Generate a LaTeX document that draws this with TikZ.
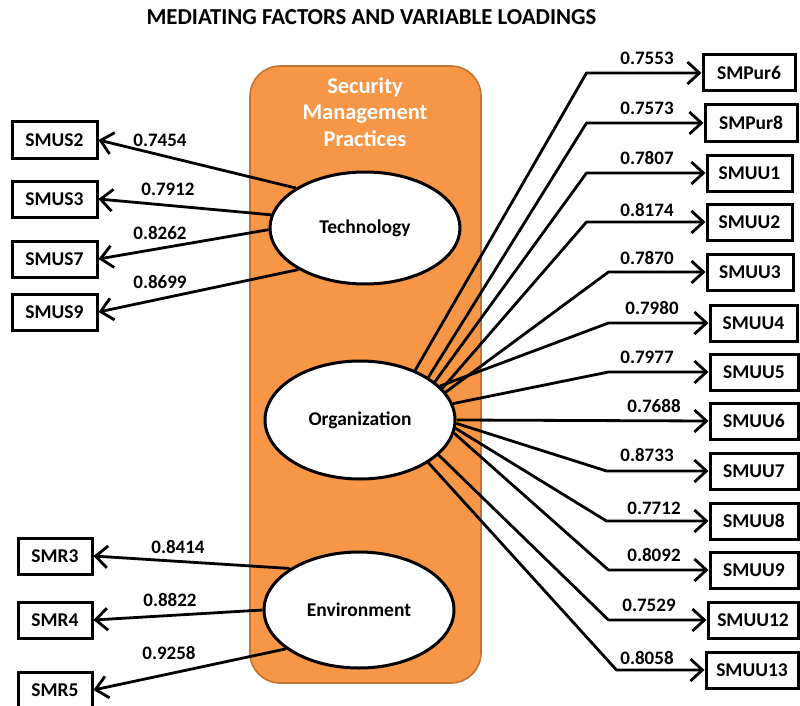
\documentclass[tikz,border=0pt]{standalone}
\usepackage{fontspec}
\setmainfont{Carlito}
\usetikzlibrary{arrows.meta,shapes.geometric}
\definecolor{orng}{HTML}{F79646}
\definecolor{orngdk}{HTML}{C27435}
\begin{document}
\begin{tikzpicture}[x=1pt,y=-1pt,
  box/.style={draw, line width=3pt, minimum height=36pt, inner sep=2pt,
    font=\fontsize{19.5}{20}\selectfont\bfseries},
  lat/.style={ellipse, draw, fill=white, line width=3pt, inner sep=0pt,
    font=\fontsize{19.5}{20}\selectfont\bfseries},
  lbl/.style={inner sep=0pt, font=\fontsize{19}{20}\selectfont\bfseries},
  arr/.style={line width=2.8pt, line join=round,
    -{Straight Barb[length=12pt,width=22pt,line width=2.8pt]}}]
\useasboundingbox (0,0) rectangle (800,706);

% title
\node[font=\fontsize{22.8}{24}\selectfont\bfseries] (title) at (371.5,17.5) {MEDIATING FACTORS AND VARIABLE LOADINGS};

% container
\draw[fill=orng, draw=orngdk, line width=1.6pt, rounded corners=30pt] (250,66) rectangle (481,683);
\node[text=white, align=center, font=\fontsize{22.5}{26.5}\selectfont\bfseries] (smp) at (365,112)
  {Security\\Management\\Practices};

% latent variables
\node[lat, minimum width=190pt, minimum height=112pt] (tech) at (365,228) {Technology};
\node[lat, minimum width=190pt, minimum height=118pt] (org) at (360,420) {Organization};
\node[lat, minimum width=190pt, minimum height=116pt] (env) at (359,610) {Environment};

% left boxes
\node[box, minimum width=85pt] (s2) at (54.5,140) {SMUS2};
\node[box, minimum width=85pt] (s3) at (54.5,199) {SMUS3};
\node[box, minimum width=85pt] (s7) at (54.5,259) {SMUS7};
\node[box, minimum width=85pt] (s9) at (54.5,312) {SMUS9};
\node[box, minimum width=74pt] (r3) at (55,556) {SMR3};
\node[box, minimum width=74pt] (r4) at (55,620) {SMR4};
\node[box, minimum width=74pt] (r5) at (55,690) {SMR5};

% right boxes
\node[box, minimum width=92pt] (p6) at (749,73) {SMPur6};
\node[box, minimum width=92pt] (p8) at (751,123) {SMPur8};
\node[box, minimum width=85pt] (u1) at (749.5,173) {SMUU1};
\node[box, minimum width=85pt] (u2) at (749.5,222) {SMUU2};
\node[box, minimum width=86pt] (u3) at (750,272) {SMUU3};
\node[box, minimum width=87pt] (u4) at (753.5,323) {SMUU4};
\node[box, minimum width=88pt] (u5) at (754,372) {SMUU5};
\node[box, minimum width=88pt] (u6) at (754,421) {SMUU6};
\node[box, minimum width=88pt] (u7) at (754,471) {SMUU7};
\node[box, minimum width=88pt] (u8) at (754,521) {SMUU8};
\node[box, minimum width=88pt] (u9) at (754,570) {SMUU9};
\node[box, minimum width=90pt] (u12) at (753,620) {SMUU12};
\node[box, minimum width=92pt] (u13) at (752,670) {SMUU13};

% left connectors
\draw[arr] (tech.150) -- (s2.east);
\draw[arr] (tech.172) -- (s3.east);
\draw[arr] (tech.181) -- (s7.east);
\draw[arr] (tech.212) -- (s9.east);
\draw[arr] (env.149) -- (r3.east);
\draw[arr] (env.180) -- (r4.east);
\draw[arr] (env.208) -- (r5.east);

% right connectors
\draw[arr] (org.42) -- ([xshift=-115pt]p6.west) -- (p6.west);
\draw[arr] (org.32) -- ([xshift=-117pt]p8.west) -- (p8.west);
\draw[arr] (org.27) -- ([xshift=-119pt]u1.west) -- (u1.west);
\draw[arr] (org.21) -- ([xshift=-119pt]u2.west) -- (u2.west);
\draw[arr] (org.18) -- ([xshift=-97pt]u3.west) -- (u3.west);
\draw[arr] (org.23) -- ([xshift=-100pt]u4.west) -- (u4.west);
\draw[arr] (org.10) -- ([xshift=-100pt]u5.west) -- (u5.west);
\draw[arr] (org.0) -- (u6.west);
\draw[arr] (org.-2) -- ([xshift=-102pt]u7.west) -- (u7.west);
\draw[arr] (org.-5) -- ([xshift=-102pt]u8.west) -- (u8.west);
\draw[arr] (org.-8) -- ([xshift=-100pt]u9.west) -- (u9.west);
\draw[arr] (org.-24) -- ([xshift=-98pt]u12.west) -- (u12.west);
\draw[arr] (org.-32) -- ([xshift=-88pt]u13.west) -- (u13.west);

% left labels
\node[lbl] (l1) at (160,140) {0.7454};
\node[lbl] (l2) at (168,189) {0.7912};
\node[lbl] (l3) at (160,233) {0.8262};
\node[lbl] (l4) at (160,282) {0.8699};
\node[lbl] (l5) at (178,547) {0.8414};
\node[lbl] (l6) at (170,600) {0.8822};
\node[lbl] (l7) at (169,653) {0.9258};

% right labels
\node[lbl] (m1) at (647,58) {0.7553};
\node[lbl] (m2) at (647,108) {0.7573};
\node[lbl] (m3) at (647,158) {0.7807};
\node[lbl] (m4) at (647,210) {0.8174};
\node[lbl] (m5) at (647,258) {0.7870};
\node[lbl] (m6) at (652,308) {0.7980};
\node[lbl] (m7) at (647,357) {0.7977};
\node[lbl] (m8) at (654,406) {0.7688};
\node[lbl] (m9) at (647,455) {0.8733};
\node[lbl] (m10) at (654,508) {0.7712};
\node[lbl] (m11) at (654,555) {0.8092};
\node[lbl] (m12) at (649,605) {0.7529};
\node[lbl] (m13) at (647,658) {0.8058};
\end{tikzpicture}
\end{document}
